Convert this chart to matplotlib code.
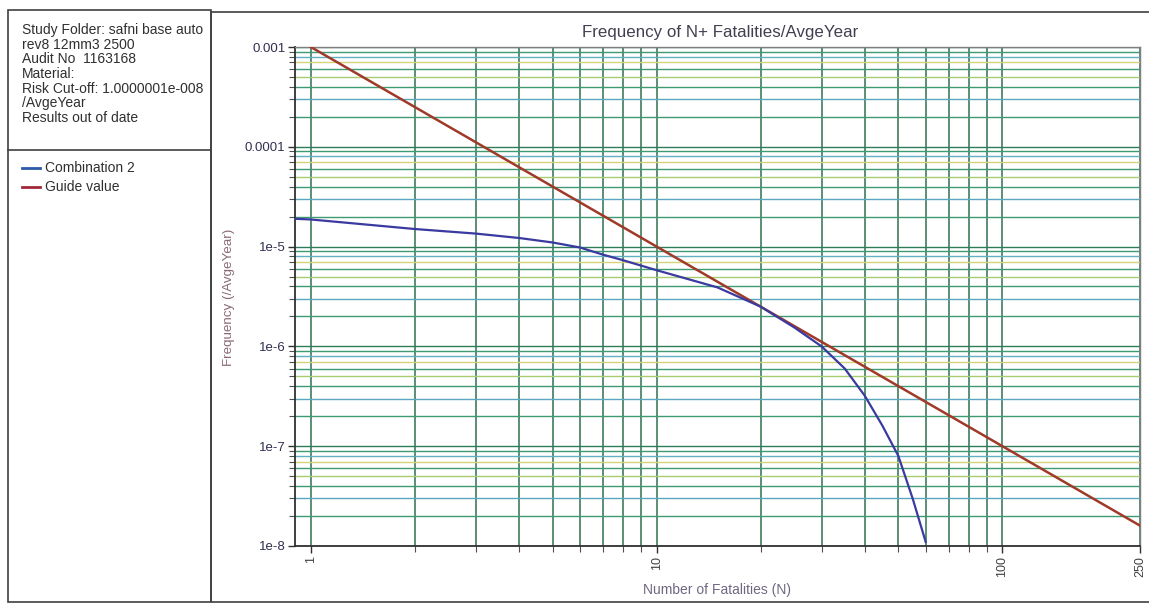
import matplotlib
matplotlib.use('Agg')
import matplotlib.pyplot as plt
from matplotlib.patches import Rectangle
from matplotlib.ticker import FixedLocator, NullFormatter

plt.rcParams['font.family'] = ['Liberation Sans', 'DejaVu Sans']

# F-N curve
fatalities_combo = [0.9, 1, 2, 3, 4, 5, 6, 7, 8, 10, 15, 20, 25, 30, 35, 40, 45, 50, 55, 60]
freq_combo = [1.9e-5, 1.87e-5, 1.5e-5, 1.35e-5, 1.22e-5, 1.1e-5, 9.8e-6, 8.3e-6, 7.3e-6,
              5.8e-6, 3.9e-6, 2.5e-6, 1.55e-6, 1.0e-6, 6.0e-7, 3.2e-7, 1.6e-7, 8.0e-8,
              3.0e-8, 1.1e-8]

# guide line 1e-3 / N^2
fatalities_guide = [1, 250]
freq_guide = [1e-3, 1.6e-8]

x_ticks = [1, 10, 100, 250]
x_tick_labels = ['1', '10', '100', '250']
x_minor = [2, 3, 4, 5, 6, 7, 8, 9, 20, 30, 40, 50, 60, 70, 80, 90]
y_ticks = [1e-3, 1e-4, 1e-5, 1e-6, 1e-7, 1e-8]
y_tick_labels = ['0.001', '0.0001', '1e-5', '1e-6', '1e-7', '1e-8']

info_lines = ['Study Folder: safni base auto', 'rev8 12mm3 2500', 'Audit No  1163168',
              'Material:', 'Risk Cut-off: 1.0000001e-008', '/AvgeYear', 'Results out of date']

# colours of the horizontal grid lines per multiplier in a decade
hgrid_colors = {1: '#2e7d5a', 2: '#3d9a72', 3: '#5aa8c0', 4: '#3d9a72', 5: '#a8cc70',
                6: '#3d9a72', 7: '#d6d27a', 8: '#60b0c0', 9: '#3d9a72'}

fig = plt.figure(figsize=(11.49, 6.04), dpi=100)
W, H = 1149, 604

def box(x0, y0, x1, y1):
    fig.patches.append(Rectangle((x0 / W, 1 - y1 / H), (x1 - x0) / W, (y1 - y0) / H,
                                 transform=fig.transFigure, fill=False,
                                 edgecolor='#404040', lw=1.2))

box(8, 10, 211, 602)
box(211, 12, 1160, 602)
fig.add_artist(plt.Line2D([8 / W, 211 / W], [1 - 150 / H, 1 - 150 / H],
                          transform=fig.transFigure, color='#404040', lw=1.2))

for i, line in enumerate(info_lines):
    fig.text(22 / W, 1 - (30 + i * 14.7) / H, line, fontsize=10, color='#303030',
             va='center', ha='left')

legend_items = [('Combination 2', '#2a5aa8'), ('Guide value', '#a02838')]
for i, (label, col) in enumerate(legend_items):
    yy = 1 - (168 + i * 19) / H
    fig.add_artist(plt.Line2D([22 / W, 40 / W], [yy, yy], transform=fig.transFigure,
                              color=col, lw=2))
    fig.text(45 / W, yy, label, fontsize=10, color='#303030', va='center', ha='left')

ax = fig.add_axes([295 / W, 1 - 546 / H, (1140 - 295) / W, (546 - 47) / H])
ax.set_xscale('log')
ax.set_yscale('log')
ax.set_xlim(0.9, 250)
ax.set_ylim(1e-8, 1e-3)

for e in range(-8, -3):
    for m in range(1, 10):
        ax.axhline(m * 10.0 ** e, color=hgrid_colors[m], lw=1.0, zorder=1)
ax.axhline(1e-3, color=hgrid_colors[1], lw=1.0, zorder=1)

ax.xaxis.set_major_locator(FixedLocator(x_ticks))
ax.xaxis.set_minor_locator(FixedLocator(x_minor))
ax.set_xticklabels(x_tick_labels, rotation=90, fontsize=9, color='#404040')
ax.xaxis.set_minor_formatter(NullFormatter())
ax.grid(axis='x', which='both', color='#2f6f50', lw=1.1, zorder=2)

minor_y = [m * 10.0 ** e for e in range(-8, -3) for m in range(2, 10)]
ax.yaxis.set_major_locator(FixedLocator(y_ticks))
ax.yaxis.set_minor_locator(FixedLocator(minor_y))
ax.set_yticklabels(y_tick_labels, fontsize=9.5, color='#303050')
ax.yaxis.set_minor_formatter(NullFormatter())
ax.tick_params(axis='both', which='major', length=5, width=1, color='#303030', pad=2)
ax.tick_params(axis='both', which='minor', length=4, width=0.8, color='#505050')
ax.set_axisbelow(True)

ax.plot(fatalities_guide, freq_guide, color='#a03a28', lw=1.8, zorder=5)
ax.plot(fatalities_combo, freq_combo, color='#3a3aa0', lw=1.6, zorder=6)

for s in ['left', 'bottom']:
    ax.spines[s].set_color('#303030')
    ax.spines[s].set_linewidth(1.3)
for s in ['top', 'right']:
    ax.spines[s].set_color('#808080')
    ax.spines[s].set_linewidth(1.0)

fig.text(720 / W, 1 - 33 / H, 'Frequency of N+ Fatalities/AvgeYear', fontsize=12.2,
         color='#404050', ha='center', va='center')
fig.text(717 / W, 1 - 590 / H, 'Number of Fatalities (N)', fontsize=10,
         color='#706880', ha='center', va='center')
fig.text(229 / W, 1 - 297 / H, 'Frequency (/AvgeYear)', fontsize=9.6, rotation=90,
         color='#8a6a72', ha='center', va='center')

fig.savefig('out.png', dpi=100)
